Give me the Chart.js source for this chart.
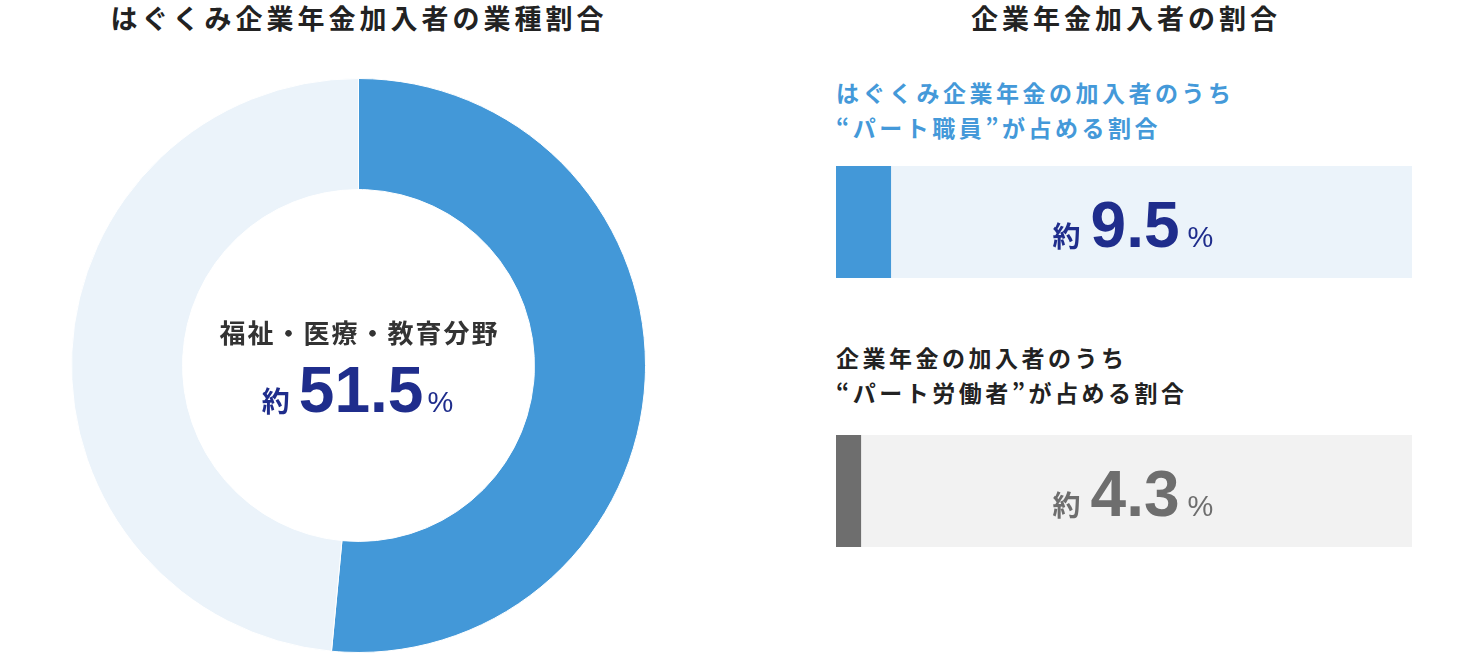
<!DOCTYPE html>
<html lang="ja">
<head>
<meta charset="utf-8">
<script src="https://cdn.jsdelivr.net/npm/chart.js@4.4.1/dist/chart.umd.min.js"></script>
<style>
  body { margin: 0; background: #fff; }
  #page { position: relative; width: 1484px; height: 656px; overflow: hidden; font-family: 'Noto Sans CJK JP', sans-serif; }
  .title { position: absolute; top: 2px; font-size: 27px; font-weight: 700; letter-spacing: 4px; line-height: 32px; color: #222; white-space: nowrap; transform: translateX(-50%); }
  .sub { position: absolute; left: 836px; font-size: 23px; font-weight: 700; letter-spacing: 3.5px; line-height: 35px; white-space: nowrap; }
  canvas { position: absolute; }
</style>
</head>
<body>
<div id="page">
  <div class="title" id="title1" style="left:359px">はぐくみ企業年金加入者の業種割合</div>
  <div class="title" id="title2" style="left:1126px">企業年金加入者の割合</div>
  <div class="sub" id="sub1" style="top:75px;color:#4499D9"></div>
  <div class="sub" id="sub2" style="top:340px;color:#222"></div>
  <canvas id="donut" width="575" height="575" style="left:71px;top:78px"></canvas>
  <canvas id="bar1" width="576" height="112" style="left:836px;top:166px"></canvas>
  <canvas id="bar2" width="576" height="112" style="left:836px;top:435px"></canvas>
</div>
<script>
// 業種割合（ドーナツ）
const gyoshuLabels = ['福祉・医療・教育分野', 'その他'];
const gyoshuValues = [51.5, 48.5];

// パート割合（横棒）
const partTitles = [
  ['はぐくみ企業年金の加入者のうち', '“パート職員”が占める割合'],
  ['企業年金の加入者のうち', '“パート労働者”が占める割合']
];
const partLabels = ['パート職員', 'パート労働者'];
const partValues = [9.5, 4.3];
const partMax = 100;

const BLUE = '#4398D8';
const LIGHT = '#EBF3FA';
const NAVY = '#1F2D8C';
const GRAY = '#6E6E6E';
const GRAY_BG = '#F2F2F2';

// 「約 xx.x %」を描く
function drawValue(ctx, cx, baseY, value, color, gap1, gap2) {
  const num = value.toFixed(1);
  ctx.save();
  ctx.fillStyle = color;
  ctx.textBaseline = 'alphabetic';
  ctx.font = "700 28px 'Noto Sans CJK JP'";
  const wA = ctx.measureText('約').width;
  ctx.font = "700 64px 'Liberation Sans'";
  const wN = ctx.measureText(num).width;
  ctx.font = "400 29px 'Liberation Sans'";
  const wP = ctx.measureText('%').width;
  let x = cx - (wA + gap1 + wN + gap2 + wP) / 2;
  ctx.font = "700 28px 'Noto Sans CJK JP'";
  ctx.fillText('約', x, baseY);
  x += wA + gap1;
  ctx.font = "700 64px 'Liberation Sans'";
  ctx.fillText(num, x, baseY);
  x += wN + gap2;
  ctx.font = "400 29px 'Liberation Sans'";
  ctx.fillText('%', x, baseY);
  ctx.restore();
}

// ドーナツ中央のテキスト
const centerText = {
  id: 'centerText',
  afterDraw(chart) {
    const arc = chart.getDatasetMeta(0).data[0];
    const ctx = chart.ctx;
    ctx.save();
    ctx.fillStyle = '#333';
    ctx.font = "700 26px 'Noto Sans CJK JP'";
    ctx.letterSpacing = '2px';
    ctx.textAlign = 'center';
    ctx.textBaseline = 'middle';
    ctx.fillText(gyoshuLabels[0], arc.x + 1, arc.y - 32);
    ctx.restore();
    drawValue(ctx, arc.x - 1, arc.y + 46, gyoshuValues[0], NAVY, 9, 4);
  }
};

new Chart(document.getElementById('donut'), {
  type: 'doughnut',
  data: {
    labels: gyoshuLabels,
    datasets: [{
      data: gyoshuValues,
      backgroundColor: [BLUE, LIGHT],
      borderColor: '#fff',
      borderWidth: 1,
      hoverOffset: 0
    }]
  },
  options: {
    responsive: false,
    animation: false,
    cutout: '61.3%',
    layout: { padding: 0 },
    plugins: { legend: { display: false }, tooltip: { enabled: false } }
  },
  plugins: [centerText]
});

// 横棒：背景と数値
function makeBar(id, i, fill, track, textColor) {
  const trackPlugin = {
    id: 'track' + i,
    beforeDatasetsDraw(chart) {
      const x = chart.scales.x, a = chart.chartArea;
      chart.ctx.save();
      chart.ctx.fillStyle = track;
      chart.ctx.fillRect(x.getPixelForValue(0), a.top, x.getPixelForValue(partMax) - x.getPixelForValue(0), a.bottom - a.top);
      chart.ctx.restore();
    },
    afterDraw(chart) {
      const a = chart.chartArea;
      drawValue(chart.ctx, (a.left + a.right) / 2 + 9, a.top + 81, partValues[i], textColor, 10, 8);
    }
  };
  new Chart(document.getElementById(id), {
    type: 'bar',
    data: {
      labels: [partLabels[i]],
      datasets: [{
        data: [partValues[i]],
        backgroundColor: fill,
        borderWidth: 0,
        barPercentage: 1,
        categoryPercentage: 1
      }]
    },
    options: {
      indexAxis: 'y',
      responsive: false,
      animation: false,
      layout: { padding: 0 },
      scales: {
        x: { display: false, min: 0, max: partMax },
        y: { display: false }
      },
      plugins: { legend: { display: false }, tooltip: { enabled: false } }
    },
    plugins: [trackPlugin]
  });
}

document.getElementById('sub1').innerHTML = partTitles[0].join('<br>');
document.getElementById('sub2').innerHTML = partTitles[1].join('<br>');

makeBar('bar1', 0, BLUE, LIGHT, NAVY);
makeBar('bar2', 1, GRAY, GRAY_BG, GRAY);
</script>
</body>
</html>
